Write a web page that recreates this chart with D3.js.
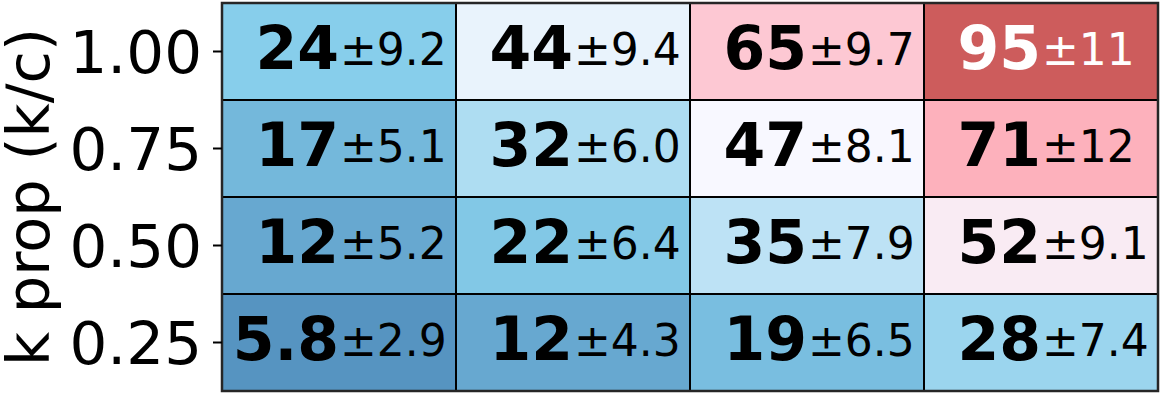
<!DOCTYPE html>
<html>
<head>
<meta charset="utf-8">
<script src="https://cdn.jsdelivr.net/npm/d3@7"></script>
<style>
  html, body { margin: 0; padding: 0; background: #fff; }
  svg { display: block; font-family: "DejaVu Sans", sans-serif; }
</style>
</head>
<body>
<svg id="chart" width="1163" height="418"></svg>
<script>
// ---- data ----
const rowLabels = ["1.00", "0.75", "0.50", "0.25"];          // k prop (k/c), top to bottom
const colLabels = ["c1", "c2", "c3", "c4"];                  // columns (no labels shown)
const means = [
  [24, 44, 65, 95],
  [17, 32, 47, 71],
  [12, 22, 35, 52],
  [5.8, 12, 19, 28]
];
const stds = [
  [9.2, 9.4, 9.7, 11],
  [5.1, 6.0, 8.1, 12],
  [5.2, 6.4, 7.9, 9.1],
  [2.9, 4.3, 6.5, 7.4]
];
const yTitle = "k prop (k/c)";

// ---- layout ----
const svg = d3.select("#chart");
const mLeft = 222, mRight = 1158, mTop = 3, mBottom = 391;

const x = d3.scaleBand().domain(colLabels).range([mLeft, mRight]).padding(0);
const y = d3.scaleBand().domain(rowLabels).range([mTop, mBottom]).padding(0);

const color = d3.scaleLinear()
  .domain([0, 24, 47, 65, 71, 95])
  .range(["#4682B4", "#87CEEB", "#F8F8FF", "#FDC8D3", "#FDB1BC", "#CD5C5C"])
  .interpolate(d3.interpolateRgb)
  .clamp(true);

const fmt = d3.format(".2r");

const cells = [];
rowLabels.forEach((r, i) => colLabels.forEach((c, j) => {
  cells.push({ row: r, col: c, mean: means[i][j], std: stds[i][j] });
}));

const g = svg.append("g");

g.selectAll("rect.cell").data(cells).join("rect")
  .attr("class", "cell")
  .attr("x", d => x(d.col))
  .attr("y", d => y(d.row))
  .attr("width", x.bandwidth())
  .attr("height", y.bandwidth())
  .attr("fill", d => color(d.mean))
  .attr("stroke", "#000")
  .attr("stroke-width", 2);

// frame
svg.append("rect")
  .attr("x", mLeft).attr("y", mTop)
  .attr("width", mRight - mLeft).attr("height", mBottom - mTop)
  .attr("fill", "none").attr("stroke", "#262626").attr("stroke-width", 2.5);

// cell texts
const txt = g.selectAll("g.lbl").data(cells).join("g").attr("class", "lbl");
txt.append("text")
  .attr("x", d => x(d.col) + x.bandwidth() / 2)
  .attr("y", d => y(d.row) + y.bandwidth() / 2 + 17.8)
  .attr("text-anchor", "end")
  .attr("font-weight", "bold")
  .attr("font-size", 60)
  .attr("fill", d => d.mean > 85 ? "#fff" : "#000")
  .text(d => fmt(d.mean));
txt.append("text")
  .attr("x", d => x(d.col) + x.bandwidth() / 2 + 1)
  .attr("y", d => y(d.row) + y.bandwidth() / 2 + 13.5)
  .attr("text-anchor", "start")
  .attr("font-size", 44)
  .attr("fill", d => d.mean > 85 ? "#fff" : "#000")
  .text(d => "\u00B1" + fmt(d.std));

// y axis
const yAxis = d3.axisLeft(y).tickSize(9).tickPadding(11);
const ya = svg.append("g").attr("transform", `translate(${mLeft},0)`).call(yAxis);
ya.select(".domain").remove();
ya.selectAll(".tick line").attr("stroke", "#000").attr("stroke-width", 2);
ya.selectAll(".tick text")
  .attr("font-size", 59.5)
  .attr("font-family", "DejaVu Sans, sans-serif")
  .attr("fill", "#000")
  .attr("dy", "0.36em");

// y title
svg.append("text")
  .attr("transform", `translate(49,${(mTop + mBottom) / 2}) rotate(-90)`)
  .attr("text-anchor", "middle")
  .attr("font-size", 59)
  .attr("fill", "#000")
  .text(yTitle);
</script>
</body>
</html>
